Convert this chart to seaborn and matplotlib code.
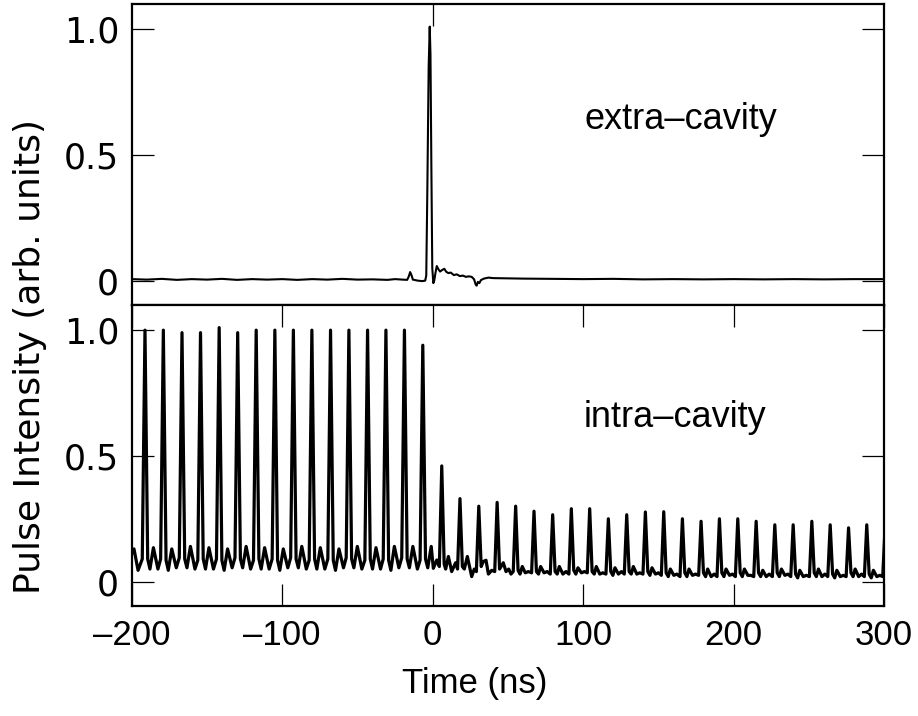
import matplotlib
matplotlib.use("Agg")
import matplotlib.pyplot as plt
import seaborn as sns
import pandas as pd

# ---------------- data ----------------
# extra-cavity trace (top panel)
t_extra = [-200, -190, -180, -170, -160, -150, -140, -130, -120, -110, -100,
           -90, -80, -70, -60, -50, -40, -30, -25, -20, -17, -16, -15, -14,
           -13.2, -10, -7, -5, -4.3, -3.6, -2.7, -2.0, -1.5, -0.9, -0.3, 0.4,
           1.0, 1.8, 2.7, 3.8, 4.9, 6.2, 7.7, 9.0, 10.4, 12, 14, 16, 18, 20,
           22, 24, 25.9, 27.5, 28.5, 29.2, 30, 31, 32, 34, 37, 40, 50, 60, 80,
           100, 120, 140, 160, 180, 200, 220, 240, 260, 280, 300]
v_extra = [0.006, 0.004, 0.007, 0.003, 0.006, 0.004, 0.007, 0.003, 0.006, 0.004, 0.006,
           0.003, 0.006, 0.004, 0.007, 0.004, 0.005, 0.003, 0.006, 0.004, 0.003, 0.015, 0.034, 0.02,
           0.004, 0.0, -0.002, 0.0, 0.02, 0.35, 0.85, 1.01, 0.9, 0.45, 0.05, -0.01,
           0.0, 0.03, 0.058, 0.045, 0.036, 0.042, 0.047, 0.035, 0.03, 0.032, 0.022, 0.025, 0.018, 0.02,
           0.015, 0.017, 0.015, 0.005, -0.015, -0.02, -0.005, -0.01, 0.002, 0.008, 0.012, 0.01, 0.009, 0.008, 0.007,
           0.006, 0.007, 0.005, 0.006, 0.005, 0.006, 0.005, 0.006, 0.005, 0.006, 0.006]

# intra-cavity trace (bottom panel): pulse train
t_intra = [
    -200.0, -198.5, -195.8, -193.0,
    -191.2, -189.4, -187.9, -185.6, -182.6, -180.8,
    -179.0, -177.2, -175.7, -173.4, -170.4, -168.4,
    -166.6, -164.8, -163.3, -161.0, -158.0, -156.1,
    -154.3, -152.5, -151.0, -148.7, -145.7, -143.7,
    -141.9, -140.1, -138.6, -136.3, -133.3, -131.4,
    -129.6, -127.8, -126.3, -124.0, -121.0, -119.1,
    -117.3, -115.5, -114.0, -111.7, -108.7, -106.7,
    -104.9, -103.1, -101.6, -99.3, -96.3, -94.4,
    -92.6, -90.8, -89.3, -87.0, -84.0, -82.1,
    -80.3, -78.5, -77.0, -74.7, -71.7, -69.7,
    -67.9, -66.1, -64.6, -62.3, -59.3, -57.5,
    -55.7, -53.9, -52.4, -50.1, -47.1, -45.1,
    -43.3, -41.5, -40.0, -37.7, -34.7, -32.9,
    -31.1, -29.3, -27.8, -25.5, -22.5, -20.6,
    -18.8, -17.0, -15.5, -13.2, -10.2, -8.4,
    -6.6, -4.8, -3.3, -1.0, 0.4, 2.7, 4.4,
    6.0, 7.6, 8.6, 10.4, 12.6, 15.2, 16.5,
    18.1, 19.7, 21.0, 23.0, 25.9, 27.6, 29.0,
    30.6, 32.2, 33.6, 35.4, 37.0, 39.2, 41.2,
    42.8, 44.4, 46.9, 48.7, 50.5, 52.0, 53.5,
    55.1, 56.7, 58.0, 59.5, 61.5, 63.5, 65.7,
    67.3, 68.9, 70.3, 71.7, 74.0, 76.0, 78.1,
    79.7, 81.3, 82.7, 84.1, 86.5, 88.5, 90.5,
    92.1, 93.7, 95.1, 96.5, 98.8, 100.8, 102.7,
    104.3, 105.9, 107.3, 108.7, 111.0, 113.0, 115.1,
    116.7, 118.3, 119.7, 121.1, 123.4, 125.4, 127.3,
    128.9, 130.5, 131.9, 133.3, 135.6, 137.6, 139.7,
    141.3, 142.9, 144.3, 145.7, 148.0, 150.0, 151.9,
    153.5, 155.1, 156.5, 157.9, 160.2, 162.2, 164.3,
    165.9, 167.5, 168.9, 170.3, 172.6, 174.6, 176.7,
    178.3, 179.9, 181.3, 182.7, 185.0, 187.0, 188.9,
    190.5, 192.1, 193.5, 194.9, 197.2, 199.2, 201.1,
    202.7, 204.3, 205.7, 207.1, 209.4, 211.4, 213.3,
    214.9, 216.5, 217.9, 219.3, 221.6, 223.6, 225.7,
    227.3, 228.9, 230.3, 231.7, 234.0, 236.0, 237.9,
    239.5, 241.1, 242.5, 243.9, 246.2, 248.2, 250.3,
    251.9, 253.5, 254.9, 256.3, 258.6, 260.6, 262.5,
    264.1, 265.7, 267.1, 268.5, 270.8, 272.8, 274.7,
    276.3, 277.9, 279.3, 280.7, 283.0, 285.0, 286.8,
    288.4, 290.0, 291.4, 292.8, 295.1, 297.1, 299.0,
    300.6]
v_intra = [
    0.11, 0.13, 0.045, 0.09,
    1.00, 0.09, 0.05, 0.135, 0.05, 0.09,
    1.00, 0.085, 0.045, 0.13, 0.055, 0.095,
    0.99, 0.09, 0.055, 0.14, 0.05, 0.085,
    0.99, 0.09, 0.05, 0.135, 0.05, 0.09,
    1.01, 0.085, 0.045, 0.13, 0.055, 0.095,
    0.99, 0.09, 0.055, 0.14, 0.05, 0.085,
    1.00, 0.09, 0.05, 0.135, 0.05, 0.09,
    1.00, 0.085, 0.045, 0.13, 0.055, 0.095,
    1.00, 0.09, 0.055, 0.14, 0.05, 0.085,
    1.00, 0.09, 0.05, 0.135, 0.05, 0.09,
    1.00, 0.085, 0.045, 0.13, 0.055, 0.095,
    1.00, 0.09, 0.055, 0.14, 0.05, 0.085,
    1.00, 0.09, 0.05, 0.135, 0.05, 0.09,
    1.00, 0.085, 0.045, 0.14, 0.055, 0.095,
    1.00, 0.09, 0.055, 0.14, 0.05, 0.085,
    0.94, 0.09, 0.055, 0.14, 0.053, 0.086, 0.06,
    0.46, 0.07, 0.05, 0.10, 0.04, 0.075, 0.05,
    0.33, 0.06, 0.05, 0.10, 0.02, 0.05, 0.04,
    0.30, 0.06, 0.08, 0.085, 0.03, 0.045, 0.04,
    0.315, 0.05, 0.075, 0.04, 0.05, 0.03, 0.04,
    0.30, 0.045, 0.03, 0.06, 0.035, 0.04, 0.035,
    0.28, 0.04, 0.03, 0.06, 0.035, 0.04, 0.03,
    0.266, 0.04, 0.03, 0.06, 0.03, 0.04, 0.03,
    0.29, 0.045, 0.03, 0.055, 0.035, 0.04, 0.035,
    0.29, 0.04, 0.03, 0.06, 0.03, 0.035, 0.03,
    0.25, 0.04, 0.025, 0.055, 0.03, 0.04, 0.03,
    0.266, 0.04, 0.03, 0.06, 0.03, 0.035, 0.03,
    0.277, 0.04, 0.025, 0.055, 0.03, 0.035, 0.025,
    0.278, 0.035, 0.02, 0.05, 0.025, 0.03, 0.02,
    0.25, 0.035, 0.02, 0.05, 0.025, 0.03, 0.025,
    0.24, 0.035, 0.02, 0.05, 0.02, 0.03, 0.02,
    0.25, 0.035, 0.02, 0.05, 0.025, 0.03, 0.02,
    0.25, 0.035, 0.02, 0.05, 0.025, 0.025, 0.02,
    0.24, 0.035, 0.02, 0.045, 0.02, 0.03, 0.02,
    0.226, 0.035, 0.02, 0.05, 0.025, 0.03, 0.02,
    0.226, 0.03, 0.015, 0.045, 0.02, 0.025, 0.02,
    0.24, 0.035, 0.02, 0.05, 0.02, 0.03, 0.02,
    0.226, 0.03, 0.015, 0.045, 0.02, 0.025, 0.02,
    0.214, 0.035, 0.02, 0.05, 0.02, 0.03, 0.02,
    0.226, 0.03, 0.015, 0.045, 0.02, 0.025, 0.02,
    0.22]

x_ticks = [-200, -100, 0, 100, 200, 300]
x_tick_labels = ["\u2013200", "\u2013100", "0", "100", "200", "300"]
y_ticks = [0, 0.5, 1.0]
y_tick_labels = ["0", "0.5", "1.0"]

# ---------------- figure ----------------
sns.set_theme(style="ticks")
plt.rcParams['font.family'] = ['Liberation Sans', 'DejaVu Sans']
plt.rcParams['text.color'] = 'black'

fig = plt.figure(figsize=(9.18, 7.16), dpi=100)
ax1 = fig.add_axes([0.1435, 0.574, 0.8197, 0.4204])
ax2 = fig.add_axes([0.1435, 0.1536, 0.8197, 0.4204])

df_extra = pd.DataFrame({"t": t_extra, "v": v_extra})
df_intra = pd.DataFrame({"t": t_intra, "v": v_intra})

sns.lineplot(data=df_extra, x="t", y="v", ax=ax1, color="black", linewidth=1.5,
             estimator=None, sort=False)
sns.lineplot(data=df_intra, x="t", y="v", ax=ax2, color="black", linewidth=2.3,
             estimator=None, sort=False)

for ax in (ax1, ax2):
    ax.set_xlim(-200, 300)
    ax.set_ylim(-0.097, 1.10)
    ax.set_yticks(y_ticks)
    ax.set_yticklabels(y_tick_labels, fontfamily="DejaVu Sans", fontsize=25)
    ax.set_xlabel("")
    ax.set_ylabel("")
    for s in ax.spines.values():
        s.set_linewidth(1.6)
        s.set_color("black")
    ax.tick_params(axis="y", direction="in", length=16, width=0.9, left=True, right=True,
                   pad=9, colors="black")

ax1.set_xticks([0])
ax1.tick_params(axis="x", direction="in", length=16, width=0.9, top=True, bottom=False,
                labelbottom=False, colors="black")

ax2.set_xticks(x_ticks)
ax2.set_xticklabels(x_tick_labels)
ax2.tick_params(axis="x", direction="in", length=16, width=0.9, top=True, bottom=True,
                labelsize=25, pad=9, colors="black")

ax1.text(101, 0.64, "extra\u2013cavity", fontsize=26, va="center", ha="left", color="black")
ax2.text(100, 0.652, "intra\u2013cavity", fontsize=26, va="center", ha="left", color="black")

fig.text(30 / 918, 1 - 357 / 716, "Pulse Intensity (arb. units)", rotation=90,
         fontsize=26, family="DejaVu Sans", ha="center", va="center", color="black")
fig.text(475 / 918, 1 - 683 / 716, "Time (ns)", fontsize=25, ha="center", va="center",
         color="black")

fig.savefig("out.png", dpi=100)
